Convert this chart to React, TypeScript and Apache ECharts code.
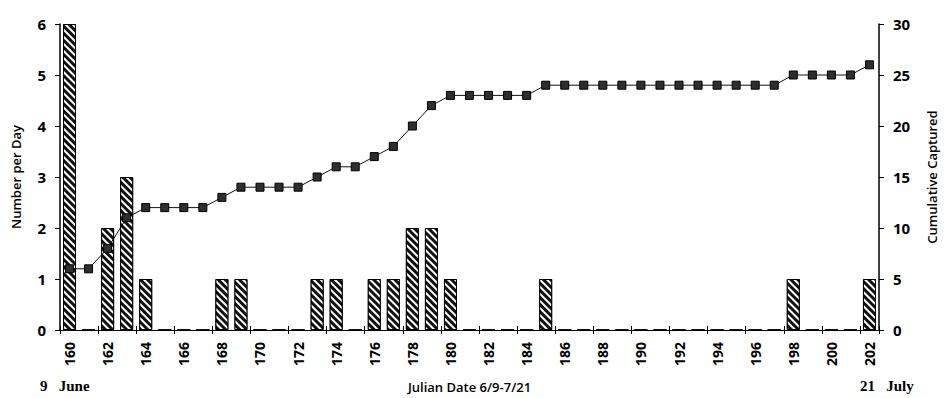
import React, { useEffect, useRef } from "react";
import * as echarts from "echarts";

const days: string[] = [];
for (let d = 160; d <= 202; d++) days.push(String(d));

// number captured per day (Julian dates 160..202)
const perDay = [
  6, 0, 2, 3, 1, 0, 0, 0, 1, 1, 0, 0, 0, 1, 1, 0, 1, 1, 2, 2, 1, 0,
  0, 0, 0, 1, 0, 0, 0, 0, 0, 0, 0, 0, 0, 0, 0, 0, 1, 0, 0, 0, 1,
];

// cumulative captured
const cumulative = [
  6, 6, 8, 11, 12, 12, 12, 12, 13, 14, 14, 14, 14, 15, 16, 16, 17, 18, 20, 22, 23, 23,
  23, 23, 23, 24, 24, 24, 24, 24, 24, 24, 24, 24, 24, 24, 24, 24, 25, 25, 25, 25, 26,
];

const leftTicks = [0, 6, 1];
const rightTicks = [0, 30, 5];

export default function App() {
  const ref = useRef<HTMLDivElement>(null);
  useEffect(() => {
    document.body.style.margin = "0";
    if (!ref.current) return;
    const chart = echarts.init(ref.current, null, { renderer: "svg" });
    const numFont = { fontFamily: "Open Sans", fontWeight: "bold" as const, color: "#000" };
    const titleFont = { fontFamily: "Open Sans", fontSize: 13, fontWeight: 600 as const, color: "#000" };
    chart.setOption({
      animation: false,
      backgroundColor: "#fff",
      grid: { left: 60, right: 59, top: 24, bottom: 67 },
      xAxis: [
        {
          type: "category",
          data: days,
          boundaryGap: true,
          name: "Julian Date 6/9-7/21",
          nameLocation: "middle",
          nameGap: 50,
          nameTextStyle: titleFont,
          axisLine: { lineStyle: { color: "#000", width: 1 } },
          axisTick: { show: true, length: 4, lineStyle: { color: "#000" } },
          axisLabel: {
            ...numFont,
            fontSize: 14,
            rotate: 90,
            margin: 12,
            interval: 1,
          },
          splitLine: { show: false },
        },
        {
          type: "category",
          data: days,
          boundaryGap: true,
          position: "bottom",
          axisLine: { show: false },
          axisTick: { show: true, inside: true, length: 4, lineStyle: { color: "#000" } },
          axisLabel: { show: false },
          splitLine: { show: false },
        },
      ],
      yAxis: [
        {
          type: "value",
          min: leftTicks[0],
          max: leftTicks[1],
          interval: leftTicks[2],
          name: "Number per Day",
          nameLocation: "middle",
          nameGap: 38,
          nameRotate: 90,
          nameTextStyle: titleFont,
          axisLine: { show: true, lineStyle: { color: "#000", width: 1.5 } },
          axisTick: { show: true, length: 5, lineStyle: { color: "#000" } },
          axisLabel: { ...numFont, fontSize: 15, margin: 14 },
          splitLine: { show: false },
        },
        {
          type: "value",
          min: rightTicks[0],
          max: rightTicks[1],
          interval: rightTicks[2],
          position: "right",
          name: "Cumulative Captured",
          nameLocation: "middle",
          nameGap: 46,
          nameRotate: 90,
          nameTextStyle: titleFont,
          axisLine: { show: true, lineStyle: { color: "#000", width: 1.5 } },
          axisTick: { show: true, length: 5, lineStyle: { color: "#000" } },
          axisLabel: { ...numFont, fontSize: 15, margin: 14 },
          splitLine: { show: false },
        },
      ],
      series: [
        {
          type: "bar",
          data: perDay,
          xAxisIndex: 0,
          yAxisIndex: 0,
          barWidth: 13,
          itemStyle: {
            color: "#111",
            borderColor: "#000",
            borderWidth: 1,
            decal: {
              symbol: "rect",
              color: "#fff",
              dashArrayX: [1, 0],
              dashArrayY: [1.4, 2.6],
              rotation: Math.PI / 4,
            },
          },
          z: 1,
        },
        {
          type: "line",
          data: cumulative,
          xAxisIndex: 0,
          yAxisIndex: 1,
          symbol: "rect",
          symbolSize: 8,
          lineStyle: { color: "#111", width: 1 },
          itemStyle: { color: "#2e2e2e", borderColor: "#000", borderWidth: 1 },
          z: 3,
        },
      ],
      graphic: [
        {
          type: "text",
          left: 40,
          top: 378,
          style: { text: "9   June", font: "bold 15px 'Liberation Serif'", fill: "#000" },
        },
        {
          type: "text",
          left: 860,
          top: 378,
          style: { text: "21   July", font: "bold 15px 'Liberation Serif'", fill: "#000" },
        },
      ],
    });
    return () => chart.dispose();
  }, []);
  return <div ref={ref} style={{ width: 946, height: 398 }} />;
}
